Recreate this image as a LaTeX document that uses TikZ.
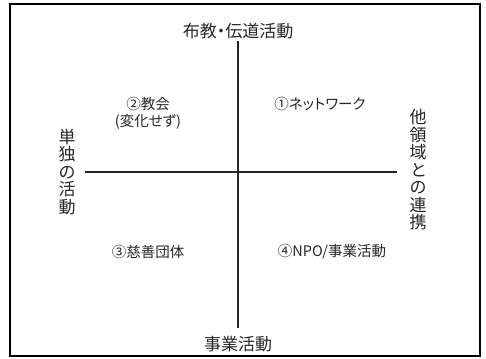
\documentclass[tikz,border=0pt]{standalone}
\usepackage{fontspec}
\newfontfamily\jp[RawFeature={+palt}]{Noto Sans CJK JP}
\begin{document}
\begin{tikzpicture}[x=1pt,y=-1pt,
  axislab/.style={font=\jp\fontsize{17}{17.5}\selectfont, text=black!85, inner sep=0pt},
  quadlab/.style={font=\jp\fontsize{14.5}{17}\selectfont, text=black!85, inner sep=0pt, align=center},
  axisline/.style={line width=1.4pt, black!85}]
\useasboundingbox (0,0) rectangle (486,358);
\draw[line width=1.8pt] (10,4) rectangle (480,356);
\node[axislab] (top) at (238,31) {布教・伝道活動};
\node[axislab] (bot) at (238,344) {事業活動};
\node[axislab, align=center] (left) at (67,172) {単\\独\\の\\活\\動};
\node[axislab, align=center] (right) at (418,170) {他\\領\\域\\と\\の\\連\\携};
\coordinate (vt) at (238,41);
\coordinate (vb) at (238,328);
\coordinate (hl) at (85,172);
\coordinate (hr) at (397,172);
\draw[axisline] (vt) -- (vb);
\draw[axisline] (hl) -- (hr);
\node[quadlab] (q2) at (148,113) {②教会\\(変化せず)};
\node[quadlab] (q1) at (320,104) {①ネットワーク};
\node[quadlab] (q3) at (148,252) {③慈善団体};
\node[quadlab] (q4) at (332,252) {④NPO/事業活動};
\end{tikzpicture}
\end{document}
